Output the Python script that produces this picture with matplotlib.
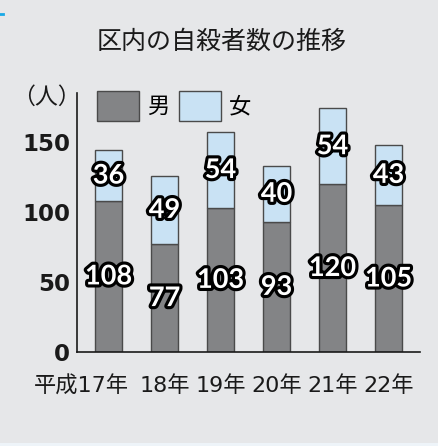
import numpy as np
import matplotlib.pyplot as plt
import matplotlib.patheffects as pe
from matplotlib.patches import Patch, Rectangle
from matplotlib.transforms import ScaledTranslation
from matplotlib.lines import Line2D

plt.rcParams['font.family'] = ['Noto Sans CJK JP', 'DejaVu Sans']

# data
years = ['平成17年', '18年', '19年', '20年', '21年', '22年']
male = [108, 77, 103, 93, 120, 105]
female = [36, 49, 54, 40, 54, 43]
yticks = [0, 50, 100, 150]

bg = '#e6e7e9'
c_male = '#838486'
c_female = '#c9e2f4'
c_edge = '#4a4a4a'
ink = '#1a1a1a'

fig = plt.figure(figsize=(4.38, 4.46), dpi=100, facecolor=bg)
ax = fig.add_axes([0.1758, 0.2108, 0.7832, 0.5807], facecolor=bg)

x = np.arange(len(years))
ax.bar(x, male, 0.48, color=c_male, edgecolor=c_edge, linewidth=1, zorder=2)
ax.bar(x, female, 0.48, bottom=male, color=c_female, edgecolor=c_edge,
       linewidth=1, zorder=2)

stroke = [pe.Stroke(linewidth=4.5, foreground='black'), pe.Normal()]
for i in range(len(x)):
    ax.text(x[i], male[i] / 2, str(male[i]), ha='center', va='center',
            color='white', fontsize=19.5, fontweight='bold',
            family='Lato', path_effects=stroke, zorder=3)
    ax.text(x[i], male[i] + female[i] / 2, str(female[i]), ha='center',
            va='center', color='white', fontsize=19.5, fontweight='bold',
            family='Lato', path_effects=stroke, zorder=3)

ax.set_xlim(-0.5625, 5.5625)
ax.set_ylim(0, 185)
ax.set_yticks(yticks)
ax.set_yticklabels([str(v) for v in yticks], fontsize=16.5, fontweight='bold',
                   family='DejaVu Sans')
ax.set_xticks(x)
ax.set_xticklabels(years, fontsize=16, family=['DejaVu Sans', 'Noto Sans CJK JP'])
ax.tick_params(axis='both', length=0, colors=ink)
ax.tick_params(axis='y', pad=5)
ax.tick_params(axis='x', pad=17)
# first label carries the era name, shift it left
lab0 = ax.get_xticklabels()[0]
lab0.set_transform(lab0.get_transform() + ScaledTranslation(-0.27, 0, fig.dpi_scale_trans))

for s in ['top', 'right']:
    ax.spines[s].set_visible(False)
for s in ['left', 'bottom']:
    ax.spines[s].set_color(ink)
    ax.spines[s].set_linewidth(1.2)

handles = [Patch(facecolor=c_male, edgecolor=c_edge, label='男'),
           Patch(facecolor=c_female, edgecolor=c_edge, label='女')]
fig.legend(handles=handles, loc='upper left', bbox_to_anchor=(97 / 438, 1 - 91 / 446),
           ncol=2, frameon=False, fontsize=16, handlelength=1.9, handleheight=1.7,
           handletextpad=0.35, columnspacing=0.45, borderpad=0, borderaxespad=0)

fig.text(46 / 438, 1 - 97 / 446, '（人）', ha='center', va='center', fontsize=16.5,
         color=ink)
fig.text(222 / 438, 1 - 42 / 446, '区内の自殺者数の推移', ha='center', va='center',
         fontsize=18, color=ink)

fig.add_artist(Line2D([0, 0.007], [1 - 14 / 446] * 2, color='#19a9e6', linewidth=2))
fig.add_artist(Rectangle((0, 0), 1, 3 / 446, transform=fig.transFigure,
                         facecolor='#eef4f9', edgecolor='none'))

fig.savefig('out.png', dpi=100, facecolor=bg)
